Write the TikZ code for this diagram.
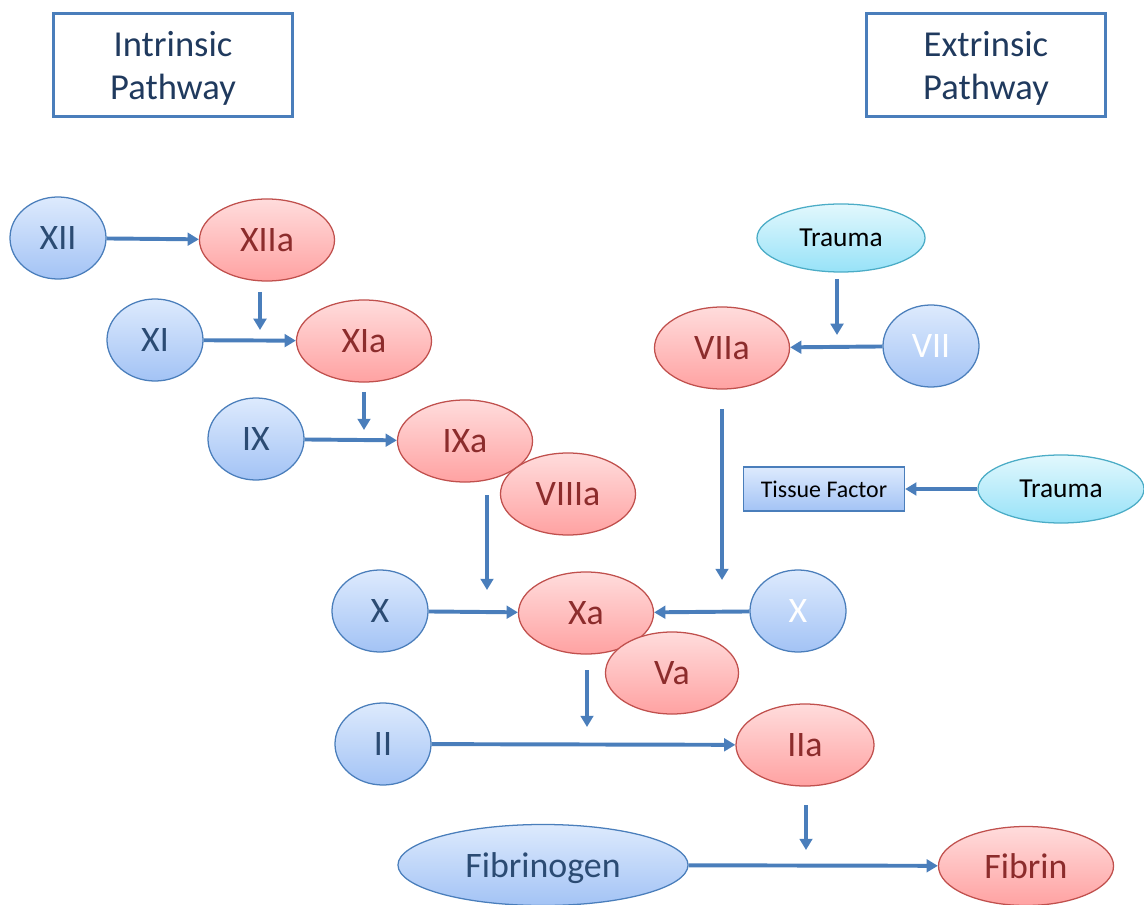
\documentclass[tikz,border=0pt]{standalone}
\usepackage{fontspec}
\setmainfont{Carlito}
\usetikzlibrary{shapes.geometric,arrows.meta}

\definecolor{linkblue}{HTML}{4A7EBB}
\definecolor{bluetop}{HTML}{DDEAFD}
\definecolor{bluebot}{HTML}{A3C3F5}
\definecolor{bluetext}{HTML}{2B4B73}
\definecolor{redline}{HTML}{C0504D}
\definecolor{redtop}{HTML}{FFDCDC}
\definecolor{redbot}{HTML}{FFA2A2}
\definecolor{redtext}{HTML}{8C2C2C}
\definecolor{cyanline}{HTML}{4BACC6}
\definecolor{cyantop}{HTML}{E2F8FD}
\definecolor{cyanbot}{HTML}{97E2F8}
\definecolor{titletext}{HTML}{203A5E}

\begin{document}
\begin{tikzpicture}[
  x=0.025cm,y=-0.025cm,
  >={Triangle[length=8pt,width=9pt]},
  flow/.style={->,draw=linkblue,line width=2.8pt},
  factor/.style={ellipse,draw=linkblue,line width=0.9pt,top color=bluetop,bottom color=bluebot,
    text=bluetext,minimum width=2.4cm,minimum height=2.05cm,inner sep=0pt,text depth=0pt,
    font=\fontsize{25.5}{30}\selectfont},
  active/.style={ellipse,draw=redline,line width=0.9pt,top color=redtop,bottom color=redbot,
    text=redtext,minimum width=3.375cm,minimum height=2.05cm,inner sep=0pt,text depth=0pt,
    font=\fontsize{25.5}{30}\selectfont},
  trauma/.style={ellipse,draw=cyanline,line width=0.9pt,top color=cyantop,bottom color=cyanbot,
    text=black,minimum width=4.2cm,minimum height=1.7cm,inner sep=0pt,text depth=0pt,
    font=\fontsize{19.5}{23}\selectfont},
  pathway/.style={rectangle,draw=linkblue,line width=2.6pt,minimum width=5.975cm,
    minimum height=2.575cm,align=center,text=titletext,text depth=0pt,
    font=\fontsize{26}{30.5}\selectfont}
]
\useasboundingbox (0,0) rectangle (1144,905);

\node[pathway] (intr) at (173,65) {Intrinsic\\Pathway};
\node[pathway] (extr) at (986,65) {Extrinsic\\Pathway};

\node[factor] (xii) at (58,238) {XII};
\node[active] (xiia) at (267,240) {XIIa};
\node[factor] (xi) at (155,340) {XI};
\node[active] (xia) at (364,341) {XIa};
\node[factor] (ix) at (256,439) {IX};
\node[active] (ixa) at (465,441) {IXa};
\node[active] (viiia) at (568,494) {VIIIa};
\node[factor] (xl) at (380,611) {X};
\node[active] (xa) at (586,613) {Xa};
\node[active,minimum width=3.325cm] (va) at (672,673) {Va};
\node[factor,text=white] (xr) at (798,611) {X};
\node[factor] (ii) at (383,744) {II};
\node[active,minimum width=3.45cm] (iia) at (805,745) {IIa};
\node[factor,minimum width=7.25cm,minimum height=2.025cm] (fbg) at (543,865) {Fibrinogen};
\node[active,minimum width=4.375cm,minimum height=1.975cm] (fbn) at (1026,866) {Fibrin};

\node[trauma] (trtop) at (841,238) {Trauma};
\node[active] (viia) at (722,348) {VIIa};
\node[factor,text=white] (vii) at (931,346) {VII};
\node[rectangle,draw=linkblue,line width=0.9pt,top color=bluetop,bottom color=bluebot,
  minimum width=4.025cm,minimum height=1.1cm,text depth=0pt,
  font=\fontsize{17}{20}\selectfont] (tf) at (824,489) {Tissue Factor};
\node[trauma,minimum width=4.15cm] (trright) at (1061,489) {Trauma};

\coordinate (d1a) at (260,292);
\coordinate (d1b) at (260,330);
\coordinate (d2a) at (364,392);
\coordinate (d2b) at (364,430);
\coordinate (d3a) at (487,495);
\coordinate (d3b) at (487,590);
\coordinate (d4a) at (722,409);
\coordinate (d4b) at (722,580);
\coordinate (d5a) at (837,279);
\coordinate (d5b) at (837,335);
\coordinate (d6a) at (587,670);
\coordinate (d6b) at (587,727);
\coordinate (d7a) at (806,805);
\coordinate (d7b) at (806,850);

\draw[flow] (xii) -- (xiia);
\draw[flow] (xi) -- (xia);
\draw[flow] (ix) -- (ixa);
\draw[flow] (xl) -- (xa);
\draw[flow] (xr) -- (xa);
\draw[flow] (ii) -- (iia);
\draw[flow] (fbg) -- (fbn);
\draw[flow] (vii) -- (viia);
\draw[flow] (trright) -- (tf);
\foreach \n in {1,...,7}
  \draw[flow] (d\n a) -- (d\n b);

\end{tikzpicture}
\end{document}
